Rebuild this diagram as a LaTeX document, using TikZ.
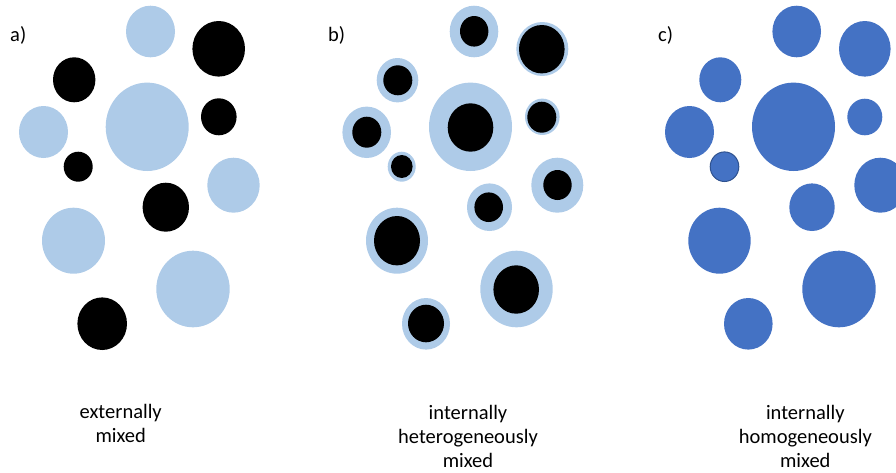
\documentclass[tikz,border=0pt]{standalone}
\usepackage{fontspec}
\setmainfont{Carlito}
\definecolor{lblue}{HTML}{AECBE8}
\definecolor{mblue}{HTML}{4472C4}
\definecolor{oblue}{HTML}{2F528F}
\begin{document}
\begin{tikzpicture}[x=1pt,y=-1pt,
  lab/.style={inner sep=0pt,anchor=base,font=\fontsize{20.5}{24}\selectfont},
  pl/.style={fill=lblue},
  pk/.style={fill=black},
  pm/.style={fill=mblue}]
\useasboundingbox (0,0) rectangle (896,472);
\begin{scope}
\clip (0,0) rectangle (896,472);
% ---------- panel a ----------
\fill[pl] (150.5,31.5) ellipse [x radius=24.5, y radius=25.8];
\fill[pk] (218.7,48.8) ellipse [x radius=26.3, y radius=27.8];
\fill[pk] (74.2,79.8) ellipse [x radius=21.2, y radius=22.5];
\fill[pl] (147.2,126.8) ellipse [x radius=41.5, y radius=44.2];
\fill[pk] (218.8,116.8) ellipse [x radius=17.8, y radius=18.5];
\fill[pl] (43.5,132) ellipse [x radius=24.5, y radius=26];
\fill[pk] (78.2,166.7) ellipse [x radius=14.5, y radius=15];
\fill[pl] (233.5,185.2) ellipse [x radius=26.2, y radius=27.5];
\fill[pk] (165.8,207.2) ellipse [x radius=23.2, y radius=24.5];
\fill[pl] (73.5,240.7) ellipse [x radius=31.5, y radius=33];
\fill[pl] (193,289) ellipse [x radius=36.7, y radius=38.3];
\fill[pk] (102.2,323.7) ellipse [x radius=24.8, y radius=26.3];
% ---------- panel b ----------
\fill[pl] (474,31.5) ellipse [x radius=24.3, y radius=25.8];
\fill[pk] (474.2,31.3) ellipse [x radius=14.2, y radius=15.3];
\fill[pl] (542.3,49) ellipse [x radius=26, y radius=27];
\fill[pk] (541.8,49.2) ellipse [x radius=22.8, y radius=24.2];
\fill[pl] (397.5,80.2) ellipse [x radius=20.8, y radius=22.2];
\fill[pk] (397.8,80.3) ellipse [x radius=14.5, y radius=15];
\fill[pl] (470.5,126.8) ellipse [x radius=41.5, y radius=44.2];
\fill[pk] (470.5,127.5) ellipse [x radius=22.8, y radius=24.2];
\fill[pl] (542.3,116.8) ellipse [x radius=17.3, y radius=18.2];
\fill[pk] (541.8,117.2) ellipse [x radius=14.5, y radius=15.5];
\fill[pl] (366.7,132.3) ellipse [x radius=24.3, y radius=25.7];
\fill[pk] (366.8,132.2) ellipse [x radius=14.5, y radius=15.5];
\fill[pl] (401.7,166.7) ellipse [x radius=14, y radius=15];
\fill[pk] (401.8,166.5) ellipse [x radius=10.8, y radius=11.5];
\fill[pl] (557.3,185.2) ellipse [x radius=26, y radius=27.5];
\fill[pk] (557.5,185) ellipse [x radius=14.2, y radius=15];
\fill[pl] (489.5,207.2) ellipse [x radius=22.5, y radius=23.8];
\fill[pk] (488.7,207.2) ellipse [x radius=14.3, y radius=14.8];
\fill[pl] (397,240.7) ellipse [x radius=31, y radius=33];
\fill[pk] (397,240.7) ellipse [x radius=23, y radius=24.7];
\fill[pl] (516.5,289) ellipse [x radius=36.2, y radius=38.3];
\fill[pk] (516.2,289.5) ellipse [x radius=22.8, y radius=24.2];
\fill[pl] (426,323.8) ellipse [x radius=24, y radius=25.8];
\fill[pk] (426,323.5) ellipse [x radius=18, y radius=18.8];
% ---------- panel c ----------
\fill[pm] (796.7,31.5) ellipse [x radius=24.3, y radius=25.8];
\fill[pm] (864.8,48.8) ellipse [x radius=25.8, y radius=27.8];
\fill[pm] (720.3,79.8) ellipse [x radius=21, y radius=22.5];
\fill[pm] (793.5,126.8) ellipse [x radius=41.5, y radius=44.2];
\fill[pm] (864.8,117) ellipse [x radius=17.5, y radius=18.3];
\fill[pm] (689.5,132) ellipse [x radius=24.5, y radius=26];
\filldraw[fill=mblue,draw=oblue,line width=1pt] (724.5,166.7) ellipse [x radius=14.3, y radius=14.8];
\fill[pm] (880.3,185.2) ellipse [x radius=26, y radius=27.5];
\fill[pm] (812,207.2) ellipse [x radius=22.7, y radius=23.8];
\fill[pm] (719.5,240.7) ellipse [x radius=31.2, y radius=33];
\fill[pm] (839,289) ellipse [x radius=36.7, y radius=38.3];
\fill[pm] (748.3,323.8) ellipse [x radius=24.3, y radius=25.8];
\end{scope}
% ---------- labels ----------
\node[lab,anchor=base west] (la) at (10,41.7) {a)};
\node[lab,anchor=base west] (lb) at (328,41.7) {b)};
\node[lab,anchor=base west] (lc) at (658,41.7) {c)};
\node[lab] (a1) at (120.7,418) {externally};
\node[lab] (a2) at (120.7,442) {mixed};
\node[lab] (b1) at (468,419.5) {internally};
\node[lab] (b2) at (468,443.5) {heterogeneously};
\node[lab] (b3) at (468,467.3) {mixed};
\node[lab] (c1) at (805.3,419.5) {internally};
\node[lab] (c2) at (805.3,443.5) {homogeneously};
\node[lab] (c3) at (805.3,467.3) {mixed};
\end{tikzpicture}
\end{document}
